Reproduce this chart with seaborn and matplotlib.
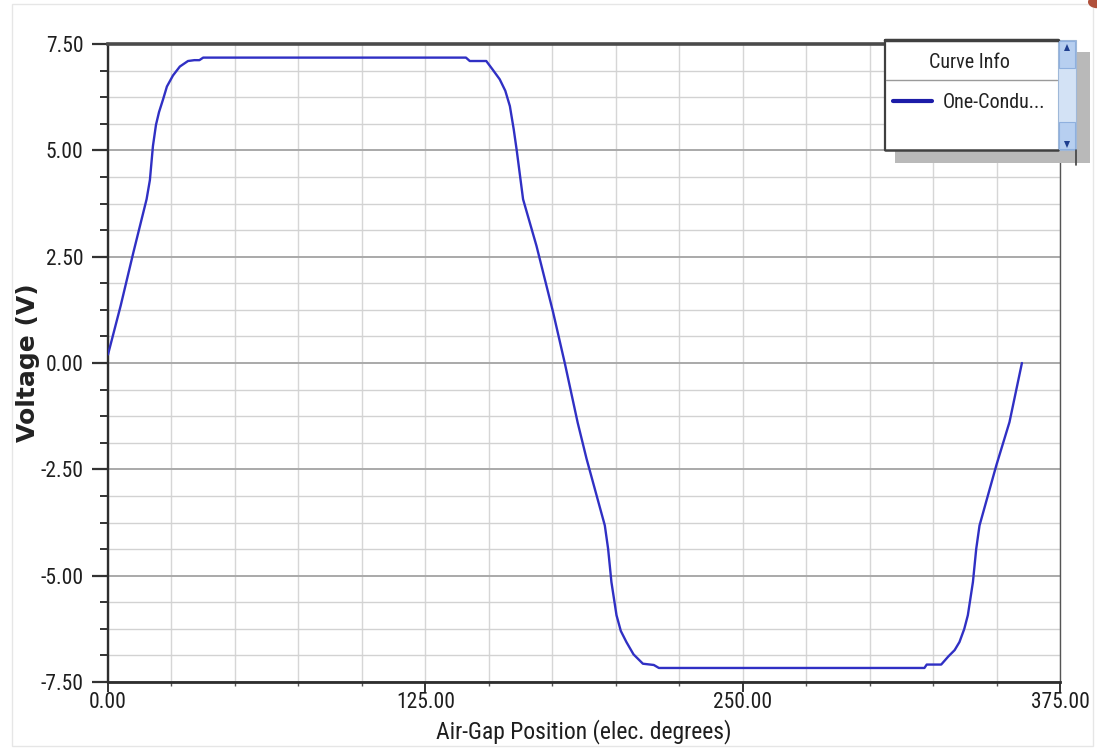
import matplotlib
matplotlib.use("Agg")
import numpy as np
import pandas as pd
import seaborn as sns
import matplotlib.pyplot as plt
from matplotlib.patches import Rectangle, Polygon, Circle
from matplotlib.lines import Line2D
from matplotlib.ticker import FixedLocator, MultipleLocator
from matplotlib import font_manager

# ---------------- data ----------------
position_deg = [0, 5, 10, 15.2, 16.5, 17.7, 18.9, 20.1, 21.7, 23.2, 25.6, 28.3, 31.5,
                34, 36, 37.5, 60, 90, 120, 141, 142.5, 149, 151.5, 154.3, 156.5,
                158.3, 159.8, 161, 163.5, 168.8, 175.3, 180, 185, 188.5, 195.7, 197,
                198.3, 200.3, 202, 204.2, 207, 210.7, 215, 217, 240, 270, 300, 321.6,
                322.5, 328.2, 331, 333.5, 335.4, 337.3, 338.7, 340.7, 342, 343.3,
                349.9, 355.1, 360]
voltage_v = [0.2, 1.35, 2.6, 3.85, 4.3, 5.1, 5.6, 5.9, 6.2, 6.5, 6.76, 6.97, 7.1,
             7.12, 7.12, 7.18, 7.18, 7.18, 7.18, 7.18, 7.1, 7.1, 6.9, 6.67, 6.4,
             6.04, 5.5, 5.0, 3.85, 2.75, 1.2, -0.02, -1.4, -2.25, -3.82, -4.37,
             -5.15, -5.93, -6.3, -6.56, -6.85, -7.07, -7.1, -7.17, -7.17, -7.17, -7.17, -7.17,
             -7.09, -7.09, -6.9, -6.75, -6.56, -6.25, -5.93, -5.15, -4.37, -3.82,
             -2.41, -1.39, 0.0]

x_major_ticks = [0, 125, 250, 375]
x_tick_labels = ["0.00", "125.00", "250.00", "375.00"]
y_major_ticks = [-7.5, -5.0, -2.5, 0.0, 2.5, 5.0, 7.5]
y_tick_labels = ["-7.50", "-5.00", "-2.50", "0.00", "2.50", "5.00", "7.50"]
x_title = "Air-Gap Position (elec. degrees)"
y_title = "Voltage (V)"
legend_title = "Curve Info"
legend_label = "One-Condu..."

# ---------------- style ----------------
sns.set_theme(style="white")
names = {f.name for f in font_manager.fontManager.ttflist}
candidates = [("Liberation Sans Narrow", (16, 17.5, 15)),
              ("Arial Narrow", (16, 17.5, 15)),
              ("Roboto Condensed", (15.5, 17, 14.5))]
fam, sizes = ["Liberation Sans", "DejaVu Sans"], (14, 14.5, 13.5)
for nm, sz in candidates:
    if nm in names:
        fam, sizes = [nm, "Liberation Sans", "DejaVu Sans"], sz
        break
tick_fs, xlab_fs, leg_fs = sizes
plt.rcParams["font.family"] = fam

W, H = 1097, 756
fig = plt.figure(figsize=(W / 100, H / 100), dpi=100)
fig.patch.set_facecolor("white")
ax = fig.add_axes([108 / W, 1 - 682 / H, (1060 - 108) / W, (682 - 44) / H])

df = pd.DataFrame({"pos": position_deg, "volt": voltage_v})
sns.lineplot(data=df, x="pos", y="volt", ax=ax, sort=False, color="#3030c4",
             linewidth=1.7, label=legend_label, zorder=3)

ax.set_xlim(0, 375)
ax.set_ylim(-7.5, 7.5)
ax.xaxis.set_major_locator(FixedLocator(x_major_ticks))
ax.set_xticklabels(x_tick_labels)
ax.xaxis.set_minor_locator(MultipleLocator(25))
ax.yaxis.set_major_locator(FixedLocator(y_major_ticks))
ax.set_yticklabels(y_tick_labels)
ax.yaxis.set_minor_locator(MultipleLocator(0.625))

ax.set_axisbelow(True)
ax.grid(True, which="major", axis="y", color="#a9a9a9", linewidth=1.4)
ax.grid(True, which="minor", axis="y", color="#d2d2d2", linewidth=1.0)
ax.grid(True, which="both", axis="x", color="#d6d6d6", linewidth=1.0)

ax.tick_params(axis="y", which="major", direction="out", length=11.5, width=1.6,
               color="#333333", pad=6, labelsize=tick_fs, labelcolor="#1e1e1e", left=True)
ax.tick_params(axis="y", which="minor", direction="out", length=5.8, width=1.4,
               color="#333333", left=True)
ax.tick_params(axis="x", which="major", direction="out", length=7, width=1.4,
               color="#333333", pad=0.5, labelsize=tick_fs, labelcolor="#1e1e1e", bottom=True)
ax.tick_params(axis="x", which="minor", direction="out", length=3, width=1.0,
               color="#555555", bottom=True)

for side, (c, lw) in {"top": ("#4a4a4a", 2.6), "left": ("#2e2e2e", 1.7),
                      "bottom": ("#2e2e2e", 2.0), "right": ("#555555", 1.0)}.items():
    ax.spines[side].set_visible(True)
    ax.spines[side].set_color(c)
    ax.spines[side].set_linewidth(lw)

ax.set_xlabel(x_title, fontsize=xlab_fs, color="#1e1e1e")
ax.xaxis.set_label_coords(0.5, -(719 - 682) / 638)
ax.xaxis.label.set_verticalalignment("top")
ax.set_ylabel(y_title, fontsize=18, fontweight="bold", color="#222222",
              family=["DejaVu Sans"])
ax.yaxis.set_label_coords((40 - 108) / 952, 0.5)

# ---------------- legend ("Curve Info" panel) ----------------
def fr(x0, y0, x1, y1, **kw):
    r = Rectangle((x0 / W, 1 - y1 / H), (x1 - x0) / W, (y1 - y0) / H,
                  transform=fig.transFigure, clip_on=False, **kw)
    ax.add_artist(r)
    return r

def fl(x0, y0, x1, y1, **kw):
    l = Line2D([x0 / W, x1 / W], [1 - y0 / H, 1 - y1 / H], transform=fig.transFigure,
               clip_on=False, **kw)
    ax.add_artist(l)
    return l

fr(895, 52, 1090, 163, facecolor="#b9b9b9", edgecolor="none", zorder=5)
fr(885, 40, 1058, 150, facecolor="white", edgecolor="none", zorder=6)
fl(885, 40, 1058, 40, color="#404040", linewidth=2.5, zorder=7)
fl(885, 40, 885, 150, color="#404040", linewidth=1.6, zorder=7)
fl(885, 150, 1058, 150, color="#404040", linewidth=1.8, zorder=7)
fl(886, 80, 1057, 80, color="#9a9a9a", linewidth=1.0, zorder=7)
# scrollbar
fr(1058, 40, 1076, 150, facecolor="#d3e2f5", edgecolor="#9fb8d8", linewidth=0.8, zorder=6)
fr(1059, 41, 1075, 68, facecolor="#b7cff0", edgecolor="#8fb0de", linewidth=0.8, zorder=7)
fr(1059, 122, 1075, 149, facecolor="#b7cff0", edgecolor="#8fb0de", linewidth=0.8, zorder=7)
for poly in ([(1064, 51), (1070, 51), (1067, 44)], [(1064, 141), (1070, 141), (1067, 148)]):
    p = Polygon([(px / W, 1 - py / H) for px, py in poly], closed=True,
                transform=fig.transFigure, clip_on=False, facecolor="#1f3f8f",
                edgecolor="none", zorder=8)
    ax.add_artist(p)
fl(1076, 150, 1076, 165, color="#404040", linewidth=1.2, zorder=7)

handles, labels = ax.get_legend_handles_labels()
leg = ax.legend(handles, labels, title=legend_title, loc="center",
                bbox_to_anchor=(969 / W, 1 - 82.5 / H), bbox_transform=fig.transFigure,
                frameon=False, borderpad=0, handlelength=1.95, handletextpad=0.5,
                labelspacing=1.0, prop={"size": leg_fs, "family": fam},
                title_fontproperties={"size": leg_fs, "family": fam})
leg.set_zorder(9)
leg._legend_box.sep = 15
for ln in leg.get_lines():
    ln.set_linewidth(3.0)
    ln.set_color("#1c1ca8")
for t in leg.get_texts():
    t.set_color("#222222")
leg.get_title().set_color("#222222")

# faint outer frame and corner mark
fr(12, 4, 1093, 746, facecolor="none", edgecolor="#e6e6e6", linewidth=1.0, zorder=0)
c = Circle((1097 / W, 1 - 2 / H), 9 / W, transform=fig.transFigure, facecolor="#b0503a",
           edgecolor="none", clip_on=True, zorder=9)
fig.add_artist(c)

fig.savefig("out.png", dpi=100)
